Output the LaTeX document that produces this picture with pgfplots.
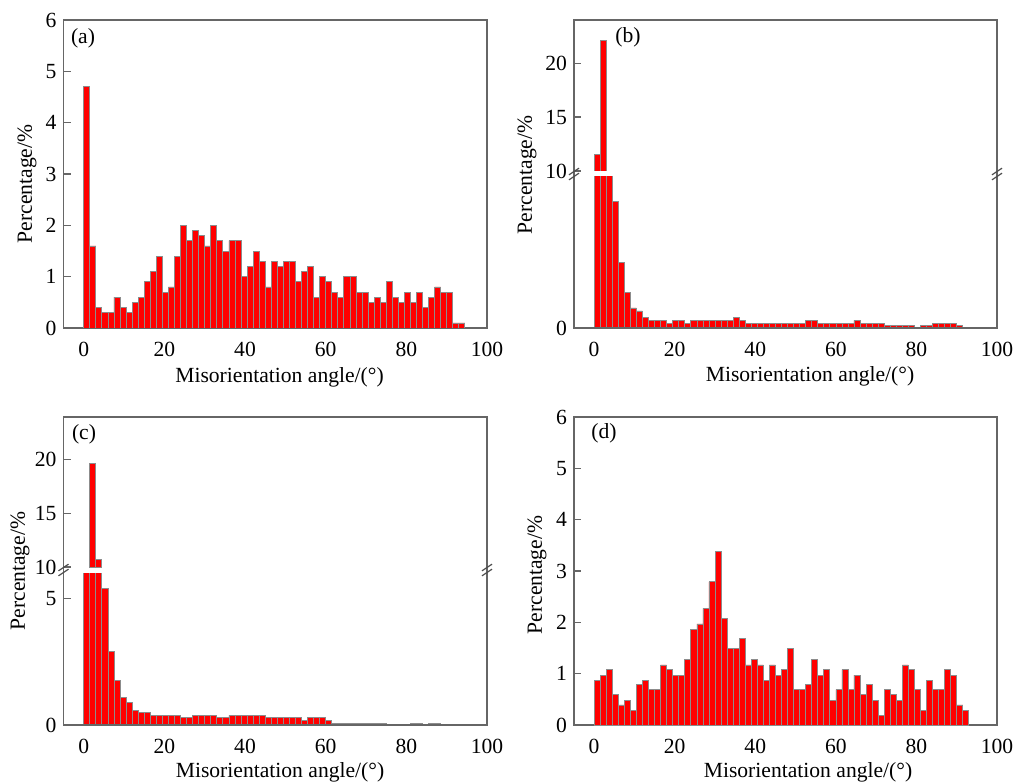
\documentclass[border=0pt]{standalone}
\usepackage{fontspec}
\setmainfont{Liberation Serif}
\usepackage{pgfplots}
\pgfplotsset{compat=1.18}
\usepackage{pgfplotstable}

\newcommand{\fs}{\fontsize{10.8}{13}\selectfont}

\pgfplotstableread{
x y
0.75 4.7
2.25 1.6
3.75 0.4
5.25 0.3
6.75 0.3
8.25 0.6
9.75 0.4
11.25 0.3
12.75 0.5
14.25 0.6
15.75 0.9
17.25 1.1
18.75 1.4
20.25 0.7
21.75 0.8
23.25 1.4
24.75 2.0
26.25 1.7
27.75 1.9
29.25 1.8
30.75 1.6
32.25 2.0
33.75 1.7
35.25 1.5
36.75 1.7
38.25 1.7
39.75 1.0
41.25 1.2
42.75 1.5
44.25 1.3
45.75 0.8
47.25 1.3
48.75 1.2
50.25 1.3
51.75 1.3
53.25 0.9
54.75 1.1
56.25 1.2
57.75 0.6
59.25 1.0
60.75 0.9
62.25 0.7
63.75 0.6
65.25 1.0
66.75 1.0
68.25 0.7
69.75 0.7
71.25 0.5
72.75 0.6
74.25 0.5
75.75 0.9
77.25 0.6
78.75 0.5
80.25 0.7
81.75 0.5
83.25 0.7
84.75 0.4
86.25 0.6
87.75 0.8
89.25 0.7
90.75 0.7
92.25 0.1
93.75 0.1
}\dataA

\pgfplotstableread{
x y
0.75 11.5
2.25 22.1
3.75 9.8
5.25 7.95
6.75 4.11
8.25 2.26
9.75 1.26
11.25 1.07
12.75 0.67
14.25 0.48
15.75 0.48
17.25 0.48
18.75 0.29
20.25 0.48
21.75 0.48
23.25 0.29
24.75 0.48
26.25 0.48
27.75 0.48
29.25 0.48
30.75 0.48
32.25 0.48
33.75 0.48
35.25 0.67
36.75 0.48
38.25 0.29
39.75 0.29
41.25 0.29
42.75 0.29
44.25 0.29
45.75 0.29
47.25 0.29
48.75 0.29
50.25 0.29
51.75 0.29
53.25 0.48
54.75 0.48
56.25 0.29
57.75 0.29
59.25 0.29
60.75 0.29
62.25 0.29
63.75 0.29
65.25 0.48
66.75 0.29
68.25 0.29
69.75 0.29
71.25 0.29
72.75 0.15
74.25 0.15
75.75 0.15
77.25 0.15
78.75 0.15
80.25 0
81.75 0.15
83.25 0.15
84.75 0.29
86.25 0.29
87.75 0.29
89.25 0.29
90.75 0.15
}\dataB

\pgfplotstableread{
x y
0.75 8
2.25 19.7
3.75 10.7
5.25 5.4
6.75 2.9
8.25 1.77
9.75 1.09
11.25 0.88
12.75 0.59
14.25 0.49
15.75 0.49
17.25 0.38
18.75 0.38
20.25 0.38
21.75 0.38
23.25 0.38
24.75 0.30
26.25 0.30
27.75 0.38
29.25 0.38
30.75 0.38
32.25 0.38
33.75 0.30
35.25 0.30
36.75 0.38
38.25 0.38
39.75 0.38
41.25 0.38
42.75 0.38
44.25 0.38
45.75 0.30
47.25 0.30
48.75 0.30
50.25 0.30
51.75 0.30
53.25 0.30
54.75 0.17
56.25 0.30
57.75 0.30
59.25 0.30
60.75 0.17
62.25 0.07
63.75 0.07
65.25 0.07
66.75 0.07
68.25 0.07
69.75 0.07
71.25 0.07
72.75 0.07
74.25 0.07
75.75 0
77.25 0
78.75 0
80.25 0
81.75 0.07
83.25 0.07
84.75 0
86.25 0.07
87.75 0.07
}\dataC

\pgfplotstableread{
x y
0.75 0.87
2.25 0.97
3.75 1.08
5.25 0.59
6.75 0.39
8.25 0.48
9.75 0.28
11.25 0.79
12.75 0.87
14.25 0.69
15.75 0.69
17.25 1.17
18.75 1.08
20.25 0.97
21.75 0.97
23.25 1.28
24.75 1.86
26.25 1.97
27.75 2.27
29.25 2.79
30.75 3.38
32.25 2.07
33.75 1.49
35.25 1.49
36.75 1.68
38.25 1.17
39.75 1.28
41.25 1.17
42.75 0.87
44.25 1.17
45.75 0.97
47.25 1.08
48.75 1.49
50.25 0.69
51.75 0.69
53.25 0.79
54.75 1.28
56.25 0.97
57.75 1.08
59.25 0.48
60.75 0.69
62.25 1.08
63.75 0.69
65.25 0.97
66.75 0.59
68.25 0.79
69.75 0.48
71.25 0.18
72.75 0.69
74.25 0.59
75.75 0.48
77.25 1.17
78.75 1.08
80.25 0.69
81.75 0.28
83.25 0.87
84.75 0.69
86.25 0.69
87.75 1.08
89.25 0.97
90.75 0.39
92.25 0.28
}\dataD

\pgfplotsset{
  hist/.style={
    scale only axis, anchor=south west,
    xmin=-5, xmax=100,
    xtick={0,20,40,60,80,100},
    tick align=inside, ytick pos=left, xtick pos=bottom,
    major x tick style={draw=none},
    major tick length=3.5pt,
    tick style={black!60, line width=0.6pt},
    axis line style={black!60, line width=0.8pt},
    /pgf/number format/assume math mode=true,
    ticklabel style={font=\fs},
    ybar, bar width=1.5,
  },
  broken/.style={axis line style={draw=none}},
  histbar/.style={fill=red, draw=black!45, line width=0.35pt},
}

\begin{document}
\begin{tikzpicture}
\path[use as bounding box] (0,0) rectangle (506.5pt,391.5pt);

% (a)
\begin{axis}[hist, at={(31.75pt,227.5pt)}, width=211.75pt, height=154pt,
  ymin=0, ymax=6, ytick={0,1,2,3,4,5,6}]
\addplot[histbar] table[x=x,y=y] {\dataA};
\end{axis}

% (b) lower
\begin{axis}[hist, broken, at={(287pt,227.5pt)}, width=211.5pt, height=75.5pt,
  ymin=0, ymax=9.5, ytick={0}]
\addplot[histbar] table[x=x,y=y] {\dataB};
\end{axis}
% (b) upper
\begin{axis}[hist, broken, at={(287pt,306pt)}, width=211.5pt, height=75.5pt,
  ymin=10, ymax=24, ytick={10,15,20}, xticklabels={}]
\addplot[histbar, restrict y to domain=10.05:30] table[x=x,y=y] {\dataB};
\end{axis}

% (c) lower
\begin{axis}[hist, broken, at={(31.75pt,29pt)}, width=211.75pt, height=76pt,
  ymin=0, ymax=6, ytick={0,5}]
\addplot[histbar] table[x=x,y=y] {\dataC};
\end{axis}
% (c) upper
\begin{axis}[hist, broken, at={(31.75pt,108pt)}, width=211.75pt, height=75pt,
  ymin=10, ymax=24, ytick={10,15,20}, xticklabels={}]
\addplot[histbar, restrict y to domain=10.05:30] table[x=x,y=y] {\dataC};
\end{axis}

% (d)
\begin{axis}[hist, at={(287pt,29pt)}, width=211.5pt, height=154pt,
  ymin=0, ymax=6, ytick={0,1,2,3,4,5,6}]
\addplot[histbar] table[x=x,y=y] {\dataD};
\end{axis}

% frames of broken panels
\draw[black!60, line width=0.8pt] (287pt,227.5pt) rectangle (498.5pt,381.5pt);
\draw[black!60, line width=0.8pt] (31.75pt,29pt) rectangle (243.5pt,183pt);

% break marks
\foreach \bx/\by in {287/304.5, 498.5/304.5, 31.75/106.5, 243.5/106.5}{
  \draw[black!70, line width=0.6pt] (\bx pt-2.5pt,\by pt-2.9pt) -- (\bx pt+2.5pt,\by pt+0.4pt);
  \draw[black!70, line width=0.6pt] (\bx pt-2.5pt,\by pt-0.4pt) -- (\bx pt+2.5pt,\by pt+2.9pt);
}

% panel labels
\node[anchor=west, font=\fs, inner sep=0pt] at (35.3pt,372.5pt) {(a)};
\node[anchor=west, font=\fs, inner sep=0pt] at (307.5pt,372.7pt) {(b)};
\node[anchor=west, font=\fs, inner sep=0pt] at (35.8pt,174.5pt) {(c)};
\node[anchor=west, font=\fs, inner sep=0pt] at (295.5pt,175pt) {(d)};

% axis labels
\node[font=\fs] at (139.75pt,203pt) {Misorientation angle/(°)};
\node[font=\fs] at (405pt,203.5pt) {Misorientation angle/(°)};
\node[font=\fs] at (140pt,5.5pt) {Misorientation angle/(°)};
\node[font=\fs] at (404pt,5.5pt) {Misorientation angle/(°)};

\node[font=\fs, rotate=90] at (13.5pt,299.5pt) {Percentage/\%};
\node[font=\fs, rotate=90] at (263.5pt,304pt) {Percentage/\%};
\node[font=\fs, rotate=90] at (10pt,106pt) {Percentage/\%};
\node[font=\fs, rotate=90] at (268.5pt,104pt) {Percentage/\%};
\end{tikzpicture}
\end{document}
